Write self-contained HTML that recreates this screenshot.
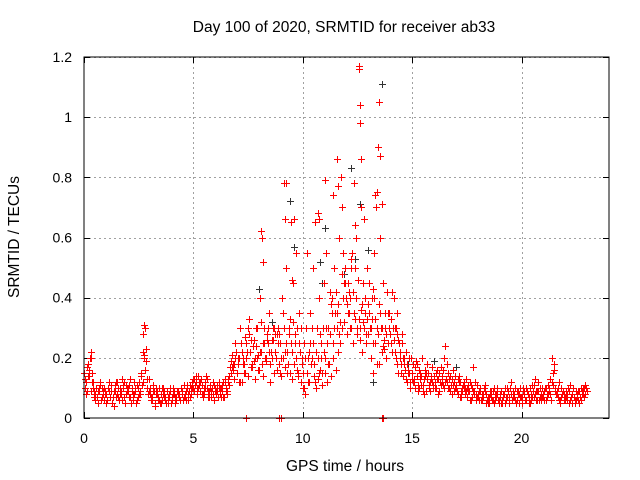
<!DOCTYPE html>
<html><head><meta charset="utf-8"><style>
body{margin:0;background:#fff;}
svg{display:block;font-family:"Liberation Sans",sans-serif;}
</style></head><body>
<svg id="chart" width="640" height="480" viewBox="0 0 640 480" xmlns="http://www.w3.org/2000/svg">
<rect width="640" height="480" fill="#fff"/>
<text x="344" y="32" font-size="15.5" text-anchor="middle" fill="#000">Day 100 of 2020, SRMTID for receiver ab33</text>
<text x="345" y="471" font-size="15.5" text-anchor="middle" fill="#000">GPS time / hours</text>
<text x="19" y="237" font-size="15.5" text-anchor="middle" fill="#000" transform="rotate(-90 19 237)">SRMTID / TECUs</text>
<g id="grid"></g>
<g id="ticks"></g>
<g id="marks"></g>
<rect x="84" y="57" width="525" height="361" fill="none" stroke="#000" stroke-width="1"/>
</svg>
<script>
const xTicks=[0,5,10,15,20];
const yTicks=[0,0.2,0.4,0.6,0.8,1,1.2];
const yTickLabels=["0","0.2","0.4","0.6","0.8","1","1.2"];
const bandStep=0.1;
const bandAStart=0.0;
const bandA=[0.15,0.12,0.18,0.2,0.1,0.08,0.07,0.09,0.1,0.06,0.08,0.1,0.07,0.05,0.09,0.12,0.06,0.08,0.1,0.11,0.09,0.07,0.1,0.08,0.06,0.12,0.14,0.22,0.3,0.1,0.08,0.06,0.09,0.1,0.07,0.05,0.08,0.06,0.09,0.07,0.06,0.08,0.07,0.09,0.06,0.08,0.07,0.1,0.09,0.08,0.1,0.12,0.14,0.09,0.11,0.08,0.1,0.07,0.09,0.08,0.1,0.09,0.08,0.11,0.07,0.1,0.12,0.15,0.18,0.2];
const bandBStart=0.05;
const bandB=[0.13,0.09,0.16,0.12,0.07,0.1,0.05,0.11,0.08,0.09,0.06,0.09,0.11,0.04,0.07,0.1,0.08,0.13,0.07,0.09,0.11,0.05,0.08,0.1,0.07,0.09,0.11,0.2,0.23,0.13,0.06,0.09,0.04,0.08,0.1,0.06,0.09,0.05,0.07,0.1,0.08,0.05,0.09,0.07,0.1,0.07,0.09,0.06,0.11,0.1,0.13,0.08,0.11,0.13,0.07,0.12,0.09,0.11,0.1,0.06,0.08,0.12,0.1,0.07,0.13,0.09,0.11,0.17,0.13,0.22];
const bandGStart=0.025;
const bandG=[0.1,0.17,0.14,0.09,0.12,0.06,0.09,0.12,0.07,0.1,0.05,0.12,0.09,0.07,0.11,0.08,0.1,0.06,0.12,0.08,0.1,0.13,0.06,0.09,0.11,0.08,0.15,0.21,0.19,0.08,0.1,0.07,0.05,0.09,0.06,0.08,0.1,0.07,0.05,0.09,0.07,0.09,0.06,0.08,0.1,0.06,0.08,0.11,0.07,0.12,0.09,0.14,0.1,0.12,0.08,0.1,0.13,0.09,0.07,0.11,0.09,0.07,0.1,0.09,0.12,0.08,0.14,0.19,0.16,0.25];
const bandHStart=0.075;
const bandH=[0.08,0.14,0.2,0.15,0.09,0.07,0.1,0.06,0.09,0.08,0.1,0.07,0.05,0.09,0.12,0.07,0.09,0.11,0.05,0.1,0.07,0.09,0.12,0.05,0.1,0.08,0.12,0.16,0.13,0.09,0.07,0.11,0.08,0.06,0.05,0.1,0.07,0.09,0.08,0.05,0.1,0.07,0.08,0.06,0.09,0.11,0.06,0.08,0.1,0.13,0.11,0.1,0.12,0.08,0.1,0.14,0.07,0.1,0.12,0.09,0.11,0.1,0.07,0.12,0.09,0.13,0.17,0.21,0.18,0.15];
const bandCStart=15.0;
const bandC=[0.15,0.12,0.18,0.1,0.14,0.11,0.16,0.13,0.09,0.12,0.14,0.1,0.13,0.17,0.11,0.24,0.12,0.1,0.13,0.09,0.11,0.08,0.12,0.09,0.1,0.07,0.09,0.11,0.17,0.08,0.07,0.09,0.06,0.1,0.08,0.05,0.07,0.09,0.06,0.08,0.07,0.05,0.08,0.06,0.09,0.12,0.07,0.1,0.06,0.08,0.07,0.09,0.06,0.08,0.1,0.07,0.13,0.09,0.06,0.08,0.07,0.1,0.08,0.13,0.2,0.16,0.09,0.12,0.07,0.09,0.06,0.08,0.11,0.05,0.07,0.09,0.06,0.1,0.08,0.11,0.09];
const bandDStart=15.05;
const bandD=[0.12,0.17,0.09,0.13,0.2,0.08,0.15,0.11,0.14,0.1,0.12,0.16,0.09,0.12,0.2,0.13,0.15,0.09,0.11,0.14,0.09,0.12,0.07,0.1,0.13,0.09,0.06,0.1,0.08,0.11,0.09,0.06,0.08,0.11,0.05,0.08,0.06,0.1,0.07,0.05,0.09,0.07,0.05,0.1,0.07,0.06,0.08,0.05,0.09,0.07,0.1,0.06,0.09,0.05,0.08,0.11,0.06,0.09,0.07,0.1,0.06,0.08,0.1,0.06,0.11,0.09,0.07,0.05,0.08,0.06,0.09,0.05,0.07,0.1,0.06,0.08,0.05,0.09,0.07,0.1];
const bandIStart=15.025;
const bandI=[0.18,0.1,0.14,0.16,0.11,0.13,0.09,0.15,0.12,0.17,0.1,0.13,0.15,0.11,0.16,0.12,0.1,0.14,0.08,0.12,0.1,0.14,0.09,0.11,0.08,0.1,0.12,0.07,0.09,0.06,0.08,0.1,0.07,0.09,0.06,0.07,0.09,0.05,0.08,0.06,0.08,0.06,0.1,0.07,0.05,0.08,0.09,0.06,0.08,0.1,0.05,0.08,0.1,0.07,0.06,0.09,0.08,0.06,0.1,0.07,0.09,0.06,0.11,0.08,0.15,0.1,0.08,0.06,0.1,0.08,0.07,0.1,0.06,0.08,0.05,0.07,0.09,0.06,0.1,0.08];
const bandJStart=15.075;
const bandJ=[0.13,0.19,0.11,0.15,0.09,0.14,0.18,0.1,0.13,0.11,0.15,0.08,0.12,0.14,0.1,0.18,0.13,0.11,0.16,0.1,0.13,0.07,0.1,0.12,0.09,0.11,0.06,0.09,0.12,0.07,0.06,0.08,0.1,0.05,0.07,0.09,0.06,0.08,0.1,0.06,0.05,0.08,0.07,0.09,0.1,0.06,0.07,0.09,0.05,0.07,0.09,0.06,0.08,0.05,0.11,0.07,0.09,0.12,0.06,0.08,0.1,0.07,0.09,0.12,0.18,0.08,0.1,0.06,0.09,0.07,0.06,0.09,0.07,0.1,0.06,0.09,0.07,0.08,0.1,0.09];
const bandEStart=7.0;
const bandE=[0.15,0.2,0.12,0.18,0.25,0.14,0.22,0.17,0.13,0.2,0.16,0.22,0.14,0.19,0.25,0.12,0.2,0.15,0.28,0.18,0.14,0.2,0.17,0.22,0.15,0.13,0.18,0.2,0.14,0.12,0.1,0.08,0.15,0.12,0.2,0.14,0.1,0.13,0.16,0.11,0.15,0.12,0.18,0.14,0.2,0.16,0.22,0.25,0.3,0.32,0.28,0.35,0.3,0.25,0.33,0.3,0.26,0.22,0.3,0.25,0.28,0.2,0.15,0.25,0.3,0.18,0.22,0.26,0.2,0.25,0.28,0.22,0.3,0.18,0.25,0.15,0.2,0.13,0.16,0.12];
const bandFStart=7.05;
const bandF=[0.2,0.3,0.18,0.27,0.22,0.33,0.26,0.19,0.24,0.21,0.4,0.6,0.3,0.26,0.35,0.22,0.3,0.28,0.3,0.25,0.4,0.78,0.5,0.3,0.65,0.45,0.25,0.3,0.35,0.2,0.25,0.3,0.2,0.35,0.5,0.65,0.3,0.4,0.25,0.45,0.55,0.3,0.42,0.4,0.5,0.35,0.6,0.8,0.55,0.5,0.45,0.4,0.55,0.78,0.6,1.17,0.7,0.45,0.35,0.5,0.45,0.4,0.55,0.7,0.9,0.6,0.45,0.35,0.42,0.3,0.33,0.4,0.3,0.26,0.22,0.28,0.2,0.18,0.15,0.2];
const bandKStart=7.025;
const bandK=[0.18,0.12,0.22,0.15,0.2,0.28,0.17,0.24,0.2,0.3,0.22,0.18,0.25,0.2,0.3,0.18,0.26,0.22,0.16,0.28,0.2,0.3,0.25,0.18,0.33,0.22,0.28,0.16,0.25,0.3,0.15,0.2,0.12,0.25,0.3,0.18,0.22,0.15,0.2,0.3,0.2,0.25,0.28,0.35,0.3,0.42,0.38,0.32,0.4,0.45,0.38,0.42,0.5,0.35,0.4,0.46,0.3,0.38,0.4,0.33,0.35,0.3,0.25,0.33,0.28,0.35,0.3,0.23,0.28,0.35,0.25,0.3,0.22,0.28,0.2,0.25,0.18,0.22,0.15,0.1];
const bandLStart=7.075;
const bandL=[0.12,0.25,0.2,0.15,0.3,0.22,0.18,0.26,0.3,0.16,0.32,0.25,0.2,0.28,0.22,0.26,0.3,0.2,0.25,0.15,0.35,0.22,0.15,0.28,0.25,0.32,0.2,0.15,0.22,0.18,0.1,0.15,0.22,0.18,0.25,0.12,0.2,0.28,0.15,0.22,0.3,0.18,0.38,0.25,0.35,0.3,0.28,0.48,0.45,0.4,0.35,0.3,0.42,0.5,0.28,0.33,0.36,0.32,0.28,0.38,0.3,0.33,0.4,0.18,0.38,0.3,0.24,0.3,0.35,0.28,0.22,0.26,0.2,0.15,0.18,0.14,0.16,0.12,0.2,0.13];
const spikeHours=[8.1,8.15,8.2,9.2,9.25,9.6,9.7,10.7,10.75,11.0,11.4,11.55,11.6,12.55,12.6,12.62,12.65,13.3,13.45,13.5,13.55,13.6,13.4,12.2,12.8,9.5,10.2,11.8,12.4,13.2,14.1,14.3,2.75,2.7,0.3,7.4,8.9,9.0,13.6,13.65];
const spikeValues=[0.62,0.6,0.52,0.66,0.78,0.66,0.55,0.68,0.66,0.79,0.74,0.86,0.77,1.16,1.04,0.98,0.86,0.74,0.9,1.05,0.87,0.71,0.75,0.53,0.66,0.46,0.55,0.7,0.64,0.43,0.42,0.35,0.31,0.28,0.22,0,0,0,0,0];
const blackHours=[13.6,12.2,12.6,9.4,11.0,12.4,10.8,11.9,9.6,10.9,8.0,13.0,16.0,17.0,8.6,13.2,14.8];
const blackValues=[1.11,0.83,0.71,0.72,0.63,0.53,0.52,0.48,0.57,0.45,0.43,0.56,0.19,0.17,0.32,0.12,0.18];

const X0=84,X1=609,Y0=418,Y1=57;
const sx=h=>X0+(h/24)*(X1-X0);
const sy=v=>Y0-(v/1.2)*(Y0-Y1);
const NS="http://www.w3.org/2000/svg";
const grid=document.getElementById('grid'),ticks=document.getElementById('ticks'),marks=document.getElementById('marks');
function mk(tag,attrs,parent){const e=document.createElementNS(NS,tag);for(const k in attrs)e.setAttribute(k,attrs[k]);parent.appendChild(e);return e;}
xTicks.forEach((t,i)=>{
  const x=Math.round(sx(t))+0.5;
  if(t>0){const g=mk('line',{x1:x,y1:Y1,x2:x,y2:Y0,stroke:'#a0a0a0','stroke-dasharray':'2,3'},grid);
  
  }
  const a=mk('line',{x1:x,y1:Y0,x2:x,y2:Y0-6,stroke:'#000'},ticks);
  
  
  const b=mk('line',{x1:x,y1:Y1,x2:x,y2:Y1+6,stroke:'#000'},ticks);
  
  
  const l=mk('text',{x:sx(t),y:443,'font-size':14,'text-anchor':'middle',fill:'#000'},ticks);
  l.textContent=String(t);
  
  
});
yTicks.forEach((t,i)=>{
  const y=Math.round(sy(t))+0.5;
  if(t>0){const g=mk('line',{x1:X0,y1:y,x2:X1,y2:y,stroke:'#a0a0a0','stroke-dasharray':'2,3'},grid);
  
  }
  const a=mk('line',{x1:X0,y1:y,x2:X0+6,y2:y,stroke:'#000'},ticks);
  
  
  const b=mk('line',{x1:X1,y1:y,x2:X1-6,y2:y,stroke:'#000'},ticks);
  
  
  const l=mk('text',{x:72,y:sy(t)+5,'font-size':14,'text-anchor':'end',fill:'#000'},ticks);
  l.textContent=yTickLabels[i];
  
  
});
function plus(h,v,color,name){
  const x=Math.round(sx(h))+0.5,y=Math.round(sy(v))+0.5;
  const p=mk('path',{d:`M${x-3.5},${y}H${x+3.5}M${x},${y-3.5}V${y+3.5}`,stroke:color,'stroke-width':1,fill:'none'},marks);
  
  
}
blackHours.forEach((h,i)=>plus(h,blackValues[i],'#333','srmtid-point-dark'));
[[bandAStart,bandA],[bandBStart,bandB],[bandGStart,bandG],[bandHStart,bandH],[bandCStart,bandC],[bandDStart,bandD],[bandIStart,bandI],[bandJStart,bandJ],[bandEStart,bandE],[bandFStart,bandF],[bandKStart,bandK],[bandLStart,bandL]].forEach(([s,arr])=>{
  arr.forEach((v,i)=>plus(s+i*bandStep,v,'#f00','srmtid-point'));
});
spikeHours.forEach((h,i)=>plus(h,spikeValues[i],'#f00','srmtid-point'));
</script>
</body></html>
